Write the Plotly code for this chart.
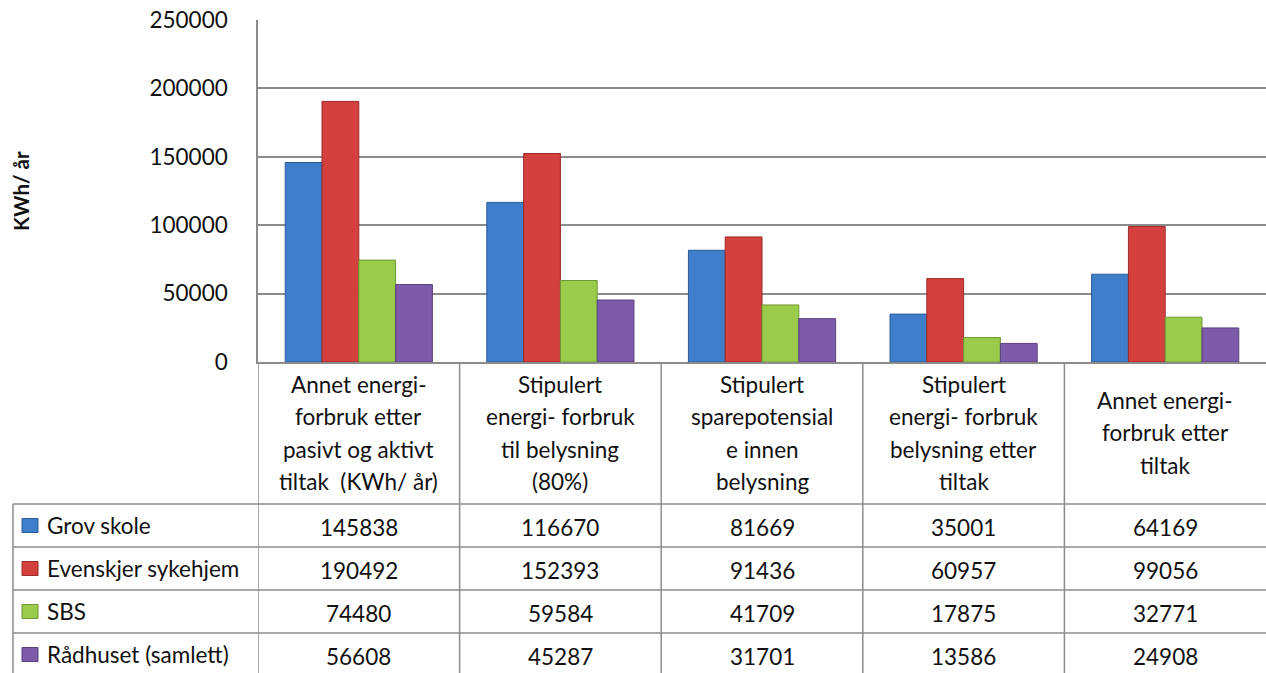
import plotly.graph_objects as go

# ---------------- data ----------------
categories = [
    "Annet energi-<br>forbruk etter<br>pasivt og aktivt<br>tiltak  (KWh/ år)",
    "Stipulert<br>energi- forbruk<br>til belysning<br>(80%)",
    "Stipulert<br>sparepotensial<br>e innen<br>belysning",
    "Stipulert<br>energi- forbruk<br>belysning etter<br>tiltak",
    "Annet energi-<br>forbruk etter<br>tiltak",
]
series_names = ["Grov skole", "Evenskjer sykehjem", "SBS", "Rådhuset (samlett)"]
grov_skole = [145838, 116670, 81669, 35001, 64169]
evenskjer = [190492, 152393, 91436, 60957, 99056]
sbs = [74480, 59584, 41709, 17875, 32771]
radhuset = [56608, 45287, 31701, 13586, 24908]
series_values = [grov_skole, evenskjer, sbs, radhuset]
y_ticks = [0, 50000, 100000, 150000, 200000, 250000]
y_title = "KWh/ år"

colors = ["#3f7ecb", "#d4403d", "#9acb4a", "#7e5aab"]
edge_colors = ["#2b5a95", "#9c2b29", "#6e9733", "#59407d"]

# ---------------- layout geometry ----------------
W, H = 1266, 673
L, R, T, B = 258, 0, 20, 311
PW, PH = W - L - R, H - T - B
FONT = "Lato"
FS = 22.5
GRID = "#8c8c8c"


def pxx(px):
    return (px - L) / PW


def pxy(py):
    return (H - B - py) / PH


header_bottom = 504
row_h = 43
table_left = 13
line_sp = 32

fig = go.Figure()
x_idx = list(range(len(categories)))
for name, vals, c, ec in zip(series_names, series_values, colors, edge_colors):
    fig.add_trace(go.Bar(
        x=x_idx, y=vals, name=name,
        marker=dict(color=c, line=dict(color=ec, width=1)),
        showlegend=False,
    ))

shapes = []
annotations = []

# vertical table lines (category boundaries)
for i in range(len(categories)):
    shapes.append(dict(type="line", xref="x", yref="paper",
                       x0=i - 0.5, x1=i - 0.5, y0=0, y1=pxy(H),
                       line=dict(color=GRID, width=1.5)))
# left border of legend column
shapes.append(dict(type="line", xref="paper", yref="paper",
                   x0=pxx(table_left), x1=pxx(table_left),
                   y0=pxy(header_bottom), y1=pxy(H),
                   line=dict(color=GRID, width=1.5)))
# horizontal row lines
for k in range(len(series_names)):
    yk = header_bottom + k * row_h
    shapes.append(dict(type="line", xref="paper", yref="paper",
                       x0=pxx(table_left), x1=1, y0=pxy(yk), y1=pxy(yk),
                       line=dict(color=GRID, width=1.5)))

# category header text
header_center = (H - B + header_bottom) / 2
for i, cat in enumerate(categories):
    lines = cat.split("<br>")
    n = len(lines)
    for j, ln in enumerate(lines):
        yc = header_center + (j - (n - 1) / 2) * line_sp
        annotations.append(dict(x=i, y=pxy(yc), xref="x", yref="paper",
                                text=ln, showarrow=False,
                                xanchor="center", yanchor="middle",
                                font=dict(family=FONT, size=FS, color="#111")))

# rows: legend key + name + values
for k, (name, vals, c, ec) in enumerate(zip(series_names, series_values, colors, edge_colors)):
    yc = header_bottom + k * row_h + row_h / 2
    shapes.append(dict(type="rect", xref="paper", yref="paper",
                       x0=pxx(22), x1=pxx(38), y0=pxy(yc - 7), y1=pxy(yc + 7),
                       fillcolor=c, line=dict(color=ec, width=1)))
    annotations.append(dict(x=pxx(45), y=pxy(yc), xref="paper", yref="paper",
                            text=name, showarrow=False, xanchor="left", yanchor="middle",
                            font=dict(family=FONT, size=FS, color="#111")))
    for i, v in enumerate(vals):
        annotations.append(dict(x=i, y=pxy(yc + 2), xref="x", yref="paper",
                                text=str(v), showarrow=False,
                                xanchor="center", yanchor="middle",
                                font=dict(family=FONT, size=FS, color="#111")))

# y-axis title
annotations.append(dict(x=pxx(21), y=0.5, xref="paper", yref="paper",
                        text="<b>" + y_title + "</b>", textangle=-90, showarrow=False,
                        xanchor="center", yanchor="middle",
                        font=dict(family=FONT, size=20.5, color="#111")))

fig.update_layout(
    width=W, height=H,
    margin=dict(l=L, r=R, t=T, b=B),
    paper_bgcolor="white", plot_bgcolor="white",
    barmode="group", bargap=0.27, bargroupgap=0,
    shapes=shapes, annotations=annotations,
    xaxis=dict(range=[-0.5, len(categories) - 0.5], showticklabels=False,
               showgrid=False, zeroline=False, showline=True,
               linecolor=GRID, linewidth=1.5, ticks=""),
    yaxis=dict(range=[0, 250000], tickvals=y_ticks, ticktext=[str(t) for t in y_ticks],
               showgrid=True, gridcolor=GRID, gridwidth=1.5,
               zeroline=False, showline=True, linecolor=GRID, linewidth=1.5,
               ticks="", ticklabelstandoff=24,
               tickfont=dict(family=FONT, size=FS, color="#111")),
    font=dict(family=FONT),
)

fig.write_html("out.html",
               config={"displayModeBar": False},
               post_script="document.body.style.margin='0';document.body.style.overflow='hidden';")
